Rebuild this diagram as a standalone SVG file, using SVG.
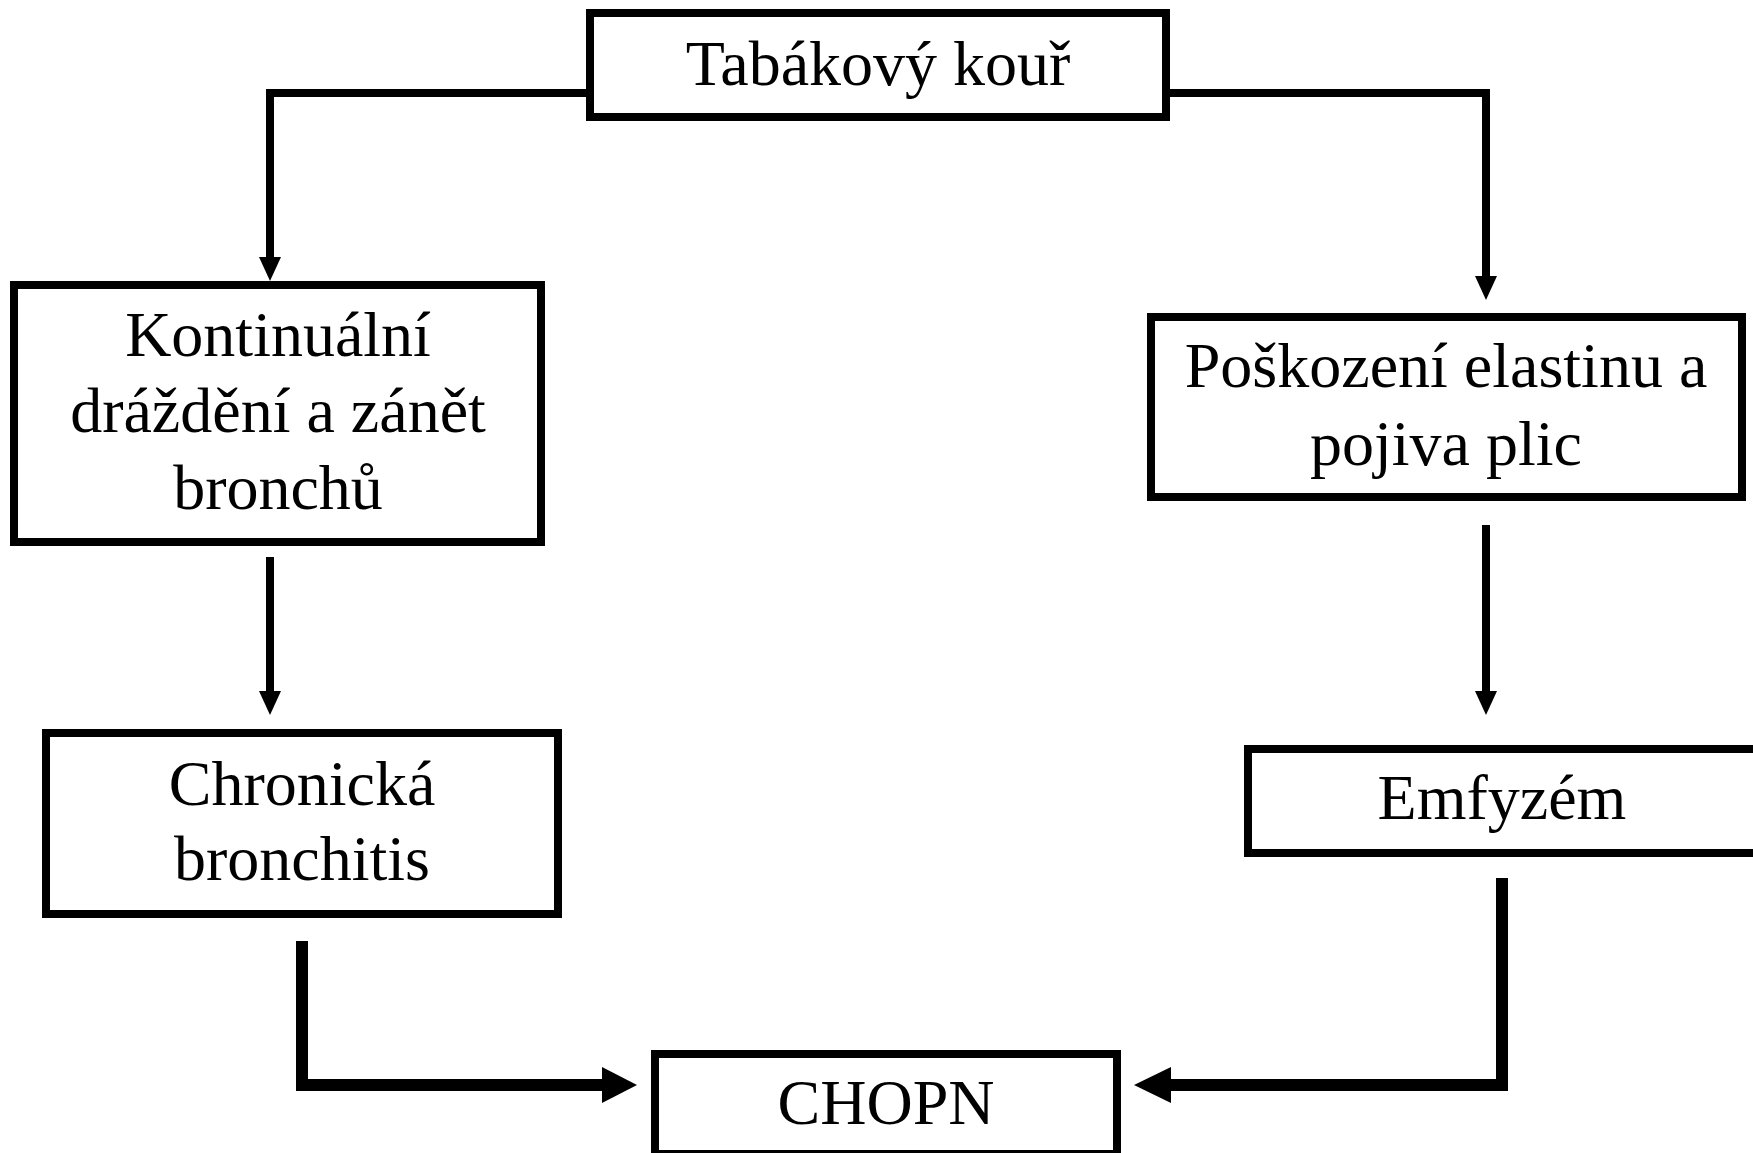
<svg xmlns="http://www.w3.org/2000/svg" width="1753" height="1153" viewBox="0 0 1753 1153">
  <style>
    .box { fill: #ffffff; stroke: #000000; stroke-width: 8; }
    .lbl { font-family: "Liberation Serif", "Times New Roman", serif; font-size: 64px; fill: #000000; text-anchor: middle; }
    .thin { fill: none; stroke: #000000; stroke-width: 8; stroke-linejoin: miter; }
    .thick { fill: none; stroke: #000000; stroke-width: 12; stroke-linejoin: miter; }
    .head { fill: #000000; }
  </style>
  <rect width="1753" height="1153" fill="#ffffff"/>
  <g id="connectors">
    <path class="thin" d="M586,93 H270 V258"/>
    <polygon class="head" points="259,257 281,257 270,281"/>
    <path class="thin" d="M1170,93 H1486 V277"/>
    <polygon class="head" points="1475,276 1497,276 1486,300"/>
    <path class="thin" d="M270,557 V692"/>
    <polygon class="head" points="259,691 281,691 270,715"/>
    <path class="thin" d="M1486,525 V692"/>
    <polygon class="head" points="1475,691 1497,691 1486,715"/>
    <path class="thick" d="M302,941 V1085 H603"/>
    <polygon class="head" points="602,1067 637,1085 602,1103"/>
    <path class="thick" d="M1502,878 V1085 H1170"/>
    <polygon class="head" points="1171,1067 1134,1085 1171,1103"/>
  </g>
  <g id="node-tabakovy-kour">
    <rect class="box" x="590" y="13" width="576" height="104"/>
    <text class="lbl" x="878" y="85">Tabákový kouř</text>
  </g>
  <g id="node-kontinualni">
    <rect class="box" x="14" y="285" width="527" height="257"/>
    <text class="lbl" x="278" y="356">Kontinuální</text>
    <text class="lbl" x="278" y="432">dráždění a zánět</text>
    <text class="lbl" x="278" y="509">bronchů</text>
  </g>
  <g id="node-poskozeni">
    <rect class="box" x="1151" y="317" width="591" height="180"/>
    <text class="lbl" x="1446" y="387">Poškození elastinu a</text>
    <text class="lbl" x="1446" y="465">pojiva plic</text>
  </g>
  <g id="node-chronicka">
    <rect class="box" x="46" y="733" width="512" height="181"/>
    <text class="lbl" x="302" y="805">Chronická</text>
    <text class="lbl" x="302" y="880">bronchitis</text>
  </g>
  <g id="node-emfyzem">
    <rect class="box" x="1248" y="749" width="520" height="104"/>
    <text class="lbl" x="1502" y="819">Emfyzém</text>
  </g>
  <g id="node-chopn">
    <rect class="box" x="655" y="1054" width="462" height="100"/>
    <text class="lbl" x="886" y="1124">CHOPN</text>
  </g>
</svg>
